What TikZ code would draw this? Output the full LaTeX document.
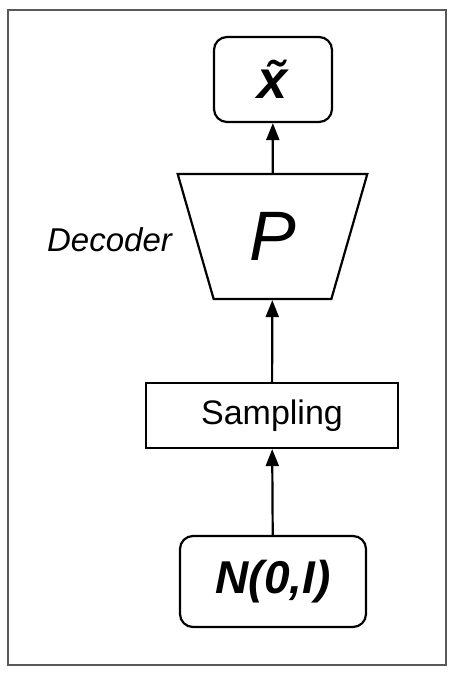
\documentclass[tikz,border=0pt]{standalone}
\usepackage{fontspec}
\setmainfont{Liberation Sans}
\usetikzlibrary{shapes.geometric,arrows.meta}

\begin{document}
\begin{tikzpicture}[x=1pt, y=-1pt,
    box/.style={draw, line width=2.2pt, inner sep=0pt},
    rbox/.style={box, rounded corners=13pt},
    link/.style={line width=2.2pt, -{Triangle[length=17pt,width=13pt]}}]
    \useasboundingbox (0, 0) rectangle (455, 677);
    \draw [black!65, line width=1.3pt] (8, 10) rectangle (446, 665);
    \node (3) at (273, 79.5) [rbox, minimum width=118pt, minimum height=85pt] {\fontsize{54}{54}\selectfont\bfseries\itshape \~{x}};
    \node (2) at (272.5, 236.5) [box, trapezium, trapezium stretches=true, shape border rotate=180,
        trapezium angle=73.5, minimum width=191pt, minimum height=125pt] {\fontsize{70}{70}\selectfont\itshape P};
    \node (1) at (272, 415.5) [box, minimum width=252pt, minimum height=65pt] {\fontsize{34}{34}\selectfont Sampling};
    \node (0) at (273, 581.5) [rbox, minimum width=186pt, minimum height=91pt] {\fontsize{46}{46}\selectfont\bfseries\itshape N(0,I)};
    \node (4) at (109.5, 240) {\fontsize{33}{33}\selectfont\itshape Decoder};
    \draw [link] (0) to (1);
    \draw [link] (1) to (2);
    \draw [link] (2) to (3);
  \end{tikzpicture}
\end{document}
